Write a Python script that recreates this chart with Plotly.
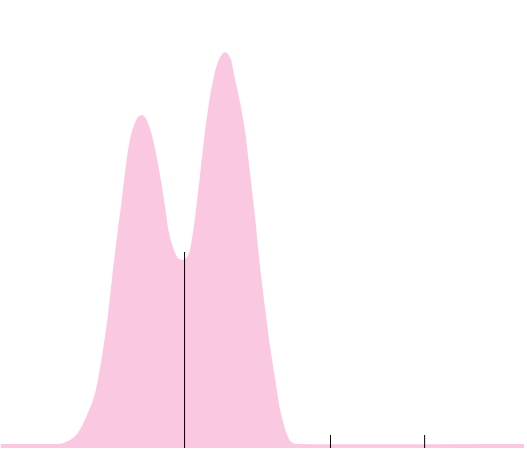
import plotly.graph_objects as go

# Density curve
x_vals = [0.00, 1.03, 1.17, 1.24, 1.32, 1.40, 1.47, 1.57, 1.66, 1.74, 1.80, 1.87, 1.93,
          1.99, 2.05, 2.12, 2.18, 2.24, 2.31, 2.37, 2.43, 2.49, 2.56, 2.62, 2.70, 2.75,
          2.81, 2.87, 2.94, 3.00, 3.08, 3.14, 3.19, 3.25, 3.33, 3.38, 3.46, 3.52, 3.58,
          3.63, 3.71, 3.80, 3.90, 4.00, 4.09, 4.17, 4.23, 4.28, 4.34, 4.40, 4.47, 4.57,
          4.67, 4.76, 4.86, 4.95, 5.05, 5.14, 5.24, 5.33, 5.41, 5.47, 5.53, 5.60, 5.72,
          10.00]
density = [0.004, 0.004, 0.0045, 0.006, 0.008, 0.011, 0.015, 0.024, 0.035, 0.045, 0.055,
           0.073, 0.091, 0.112, 0.135, 0.168, 0.195, 0.220, 0.248, 0.275, 0.298, 0.314,
           0.325, 0.331, 0.333, 0.331, 0.325, 0.316, 0.301, 0.285, 0.261, 0.240, 0.221,
           0.207, 0.195, 0.190, 0.188, 0.189, 0.193, 0.202, 0.230, 0.270, 0.316, 0.353,
           0.376, 0.389, 0.394, 0.396, 0.394, 0.388, 0.370, 0.346, 0.316, 0.276, 0.230,
           0.183, 0.140, 0.103, 0.070, 0.040, 0.023, 0.013, 0.007, 0.0045, 0.004, 0.004]

# Reference marks (median line and two ticks)
mark_x = [3.51, 6.30, 8.10]
mark_top = [0.196, 0.013, 0.013]

fig = go.Figure()
fig.add_trace(go.Scatter(
    x=x_vals, y=density, mode="lines", fill="tozeroy",
    line=dict(color="#fbc8e2", width=0, shape="spline", smoothing=0.5),
    fillcolor="#fbc8e2", hoverinfo="skip", showlegend=False,
))

seg_x, seg_y = [], []
for mx, mt in zip(mark_x, mark_top):
    seg_x += [mx, mx, None]
    seg_y += [0, mt, None]
fig.add_trace(go.Scatter(
    x=seg_x, y=seg_y, mode="lines",
    line=dict(color="black", width=1), hoverinfo="skip", showlegend=False,
))

fig.update_layout(
    width=527, height=450,
    margin=dict(l=1, r=3, t=0, b=2),
    paper_bgcolor="white", plot_bgcolor="white",
    xaxis=dict(range=[0, 10], visible=False, fixedrange=True),
    yaxis=dict(range=[0, 0.448], visible=False, fixedrange=True),
    showlegend=False,
)

fig.write_html(
    "out.html",
    config={"displayModeBar": False},
    post_script="document.body.style.margin='0';document.body.style.overflow='hidden';",
)
